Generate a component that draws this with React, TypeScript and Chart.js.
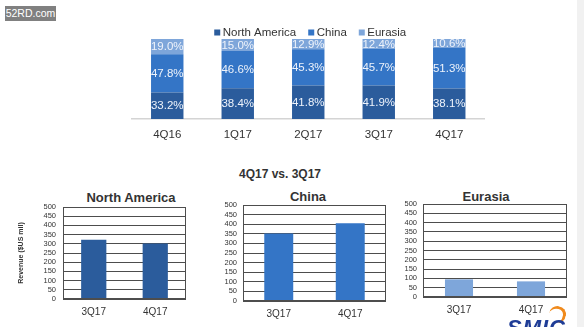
import React, { useEffect, useRef } from 'react';
import { Chart, registerables } from 'chart.js';

Chart.register(...registerables);

// ---------- data ----------
const quarters = ['4Q16', '1Q17', '2Q17', '3Q17', '4Q17'];
const northAmericaShare = [33.2, 38.4, 41.8, 41.9, 38.1];
const chinaShare = [47.8, 46.6, 45.3, 45.7, 51.3];
const eurasiaShare = [19.0, 15.0, 12.9, 12.4, 10.6];

const compareQuarters = ['3Q17', '4Q17'];
const northAmericaRevenue = [322, 301];
const chinaRevenue = [352, 405];
const eurasiaRevenue = [95, 84];

const revenueMin = 0;
const revenueMax = 500;
const revenueStep = 50;

const seriesNames = ['North America', 'China', 'Eurasia'];
const comparisonTitle = '4Q17 vs. 3Q17';
const yAxisTitle = 'Revenue ($US mil)';

// ---------- styles ----------
const FONT = '"Liberation Sans", Arial, Helvetica, sans-serif';
const C_NA = '#2b5c9c';
const C_CN = '#3475c6';
const C_EU = '#7ea6da';
const TEXT = '#333333';
const GRID = '#4d4d4d';

const segmentLabels = {
  id: 'segmentLabels',
  afterDatasetsDraw(chart: any) {
    const ctx = chart.ctx;
    ctx.save();
    ctx.font = `11.5px ${FONT}`;
    ctx.fillStyle = '#eef3fb';
    ctx.textAlign = 'center';
    ctx.textBaseline = 'middle';
    chart.data.datasets.forEach((ds: any, di: number) => {
      const meta = chart.getDatasetMeta(di);
      meta.data.forEach((el: any, i: number) => {
        const { x, y, base } = el.getProps(['x', 'y', 'base'], true);
        ctx.fillText(Number(ds.data[i]).toFixed(1) + '%', x, (y + base) / 2 + 0.5);
      });
    });
    ctx.restore();
  },
};

const customLegend = {
  id: 'customLegend',
  afterDraw(chart: any) {
    const ctx = chart.ctx;
    ctx.save();
    ctx.font = `11.5px ${FONT}`;
    ctx.textBaseline = 'middle';
    ctx.textAlign = 'left';
    const box = 6;
    const gap = 2.5;
    const sep = 12;
    const items = chart.data.datasets.map((d: any) => ({ text: d.label, color: d.backgroundColor }));
    const widths = items.map((it: any) => box + gap + ctx.measureText(it.text).width);
    const total = widths.reduce((a: number, b: number) => a + b, 0) + sep * (items.length - 1);
    const area = chart.chartArea;
    let x = (area.left + area.right) / 2 + 2 - total / 2;
    const y = area.top - 6;
    items.forEach((it: any, i: number) => {
      ctx.fillStyle = it.color;
      ctx.fillRect(x, y - box / 2 - 0.5, box, box);
      ctx.fillStyle = TEXT;
      ctx.fillText(it.text, x + box + gap, y);
      x += widths[i] + sep;
    });
    ctx.restore();
  },
};

const plotBox = {
  id: 'plotBox',
  afterDraw(chart: any) {
    const { ctx, chartArea } = chart;
    ctx.save();
    ctx.strokeStyle = GRID;
    ctx.lineWidth = 1;
    ctx.strokeRect(
      Math.round(chartArea.left) + 0.5,
      Math.round(chartArea.top) + 0.5,
      Math.round(chartArea.right - chartArea.left) - 1,
      Math.round(chartArea.bottom - chartArea.top) - 1
    );
    ctx.restore();
  },
};

function ShareChart() {
  const ref = useRef<HTMLCanvasElement>(null);
  useEffect(() => {
    if (!ref.current) return;
    const chart = new Chart(ref.current, {
      type: 'bar',
      data: {
        labels: quarters,
        datasets: [
          { label: seriesNames[0], data: northAmericaShare, backgroundColor: C_NA },
          { label: seriesNames[1], data: chinaShare, backgroundColor: C_CN },
          { label: seriesNames[2], data: eurasiaShare, backgroundColor: C_EU },
        ],
      },
      options: {
        animation: false,
        responsive: false,
        maintainAspectRatio: false,
        layout: { padding: { left: 32, right: 35.5, top: 19, bottom: 6 } },
        datasets: { bar: { categoryPercentage: 0.46, barPercentage: 1 } },
        plugins: { legend: { display: false }, tooltip: { enabled: false } },
        scales: {
          x: {
            stacked: true,
            grid: { display: false, drawTicks: false },
            border: { display: true, color: '#d4d4d4', width: 1.5 },
            ticks: { color: TEXT, padding: 9, font: { family: FONT, size: 11.5 } },
            afterFit: (s: any) => { s.height = 25; },
          },
          y: { stacked: true, display: false, min: 0, max: 100 },
        },
      },
      plugins: [segmentLabels, customLegend],
    } as any);
    return () => chart.destroy();
  }, []);
  return (
    <canvas
      ref={ref}
      width={420}
      height={130}
      style={{ position: 'absolute', left: 100, top: 20, width: 420, height: 130 }}
    />
  );
}

type RevProps = {
  values: number[];
  color: string;
  label: string;
  left: number;
  width: number;
  pad: { left: number; right: number; top: number; bottom: number };
  yWidth: number;
  tickPad: number;
  showTitle: boolean;
  catPct: number;
};

function RevenueChart(p: RevProps) {
  const ref = useRef<HTMLCanvasElement>(null);
  useEffect(() => {
    if (!ref.current) return;
    const chart = new Chart(ref.current, {
      type: 'bar',
      data: {
        labels: compareQuarters,
        datasets: [{ label: p.label, data: p.values, backgroundColor: p.color }],
      },
      options: {
        animation: false,
        responsive: false,
        maintainAspectRatio: false,
        layout: { padding: p.pad },
        datasets: { bar: { categoryPercentage: p.catPct, barPercentage: 1 } },
        plugins: { legend: { display: false }, tooltip: { enabled: false } },
        scales: {
          x: {
            grid: { display: false, drawTicks: false },
            border: { display: false },
            ticks: { color: TEXT, padding: 7, font: { family: FONT, size: 10 } },
            afterFit: (s: any) => { s.height = 22; },
          },
          y: {
            min: revenueMin,
            max: revenueMax,
            grid: { color: GRID, lineWidth: 1, drawTicks: false },
            border: { display: false },
            ticks: {
              stepSize: revenueStep,
              autoSkip: false,
              color: TEXT,
              padding: p.tickPad,
              font: { family: FONT, size: 7.5 },
            },
            title: {
              display: p.showTitle,
              text: yAxisTitle,
              color: TEXT,
              padding: 0,
              font: { family: FONT, size: 7, weight: 'bold' },
            },
            afterFit: (s: any) => { s.width = p.yWidth; },
          },
        },
      },
      plugins: [plotBox],
    } as any);
    return () => chart.destroy();
  }, []);
  return (
    <canvas
      ref={ref}
      width={p.width}
      height={147}
      style={{ position: 'absolute', left: p.left, top: 180, width: p.width, height: 147 }}
    />
  );
}

const centerText = (
  text: string,
  x: number,
  y: number,
  size: number,
  bold = true
): React.ReactElement => (
  <div
    style={{
      position: 'absolute',
      left: x,
      top: y,
      transform: 'translate(-50%, -50%)',
      fontFamily: FONT,
      fontSize: size,
      fontWeight: bold ? 'bold' : 'normal',
      color: TEXT,
      whiteSpace: 'nowrap',
      lineHeight: 1,
    }}
  >
    {text}
  </div>
);

export default function App() {
  return (
    <div
      style={{
        position: 'absolute',
        left: 0,
        top: 0,
        width: 584,
        height: 327,
        overflow: 'hidden',
        background: '#ffffff',
      }}
    >
      <div style={{ position: 'absolute', left: 577, top: 0, width: 7, height: 327, background: '#f1f1f1' }} />
      <div
        style={{
          position: 'absolute',
          left: 5,
          top: 6,
          width: 51,
          height: 15,
          background: '#808080',
          color: '#ffffff',
          fontFamily: FONT,
          fontSize: 10.5,
          lineHeight: '15px',
          textAlign: 'center',
        }}
      >
        52RD.com
      </div>
      <ShareChart />
      {centerText(comparisonTitle, 280, 174, 12)}
      {centerText(seriesNames[0], 131, 197, 13)}
      {centerText(seriesNames[1], 308, 196, 13)}
      {centerText(seriesNames[2], 486, 196, 13)}
      <RevenueChart
        values={northAmericaRevenue}
        color={C_NA}
        label={seriesNames[0]}
        left={0}
        width={195}
        pad={{ left: 17, right: 9, top: 27, bottom: 6 }}
        yWidth={46}
        tickPad={7}
        showTitle={true}
        catPct={0.41}
      />
      <RevenueChart
        values={chinaRevenue}
        color={C_CN}
        label={seriesNames[1]}
        left={195}
        width={200}
        pad={{ left: 0, right: 9, top: 25, bottom: 4 }}
        yWidth={48}
        tickPad={6}
        showTitle={false}
        catPct={0.405}
      />
      <RevenueChart
        values={eurasiaRevenue}
        color={C_EU}
        label={seriesNames[2]}
        left={395}
        width={189}
        pad={{ left: 0, right: 17, top: 24, bottom: 8 }}
        yWidth={28}
        tickPad={6}
        showTitle={false}
        catPct={0.39}
      />
      <div
        style={{
          position: 'absolute',
          left: 549,
          top: 306,
          width: 14,
          height: 14,
          borderTop: '3px solid #f08a1c',
          borderRight: '3px solid #f08a1c',
          borderRadius: '50%',
          transform: 'rotate(10deg)',
        }}
      />
      <div
        style={{
          position: 'absolute',
          left: 507,
          top: 317,
          fontFamily: FONT,
          fontSize: 22,
          lineHeight: '22px',
          fontWeight: 'bold',
          fontStyle: 'italic',
          color: '#1e3c96',
          letterSpacing: 1,
        }}
      >
        SMIC
      </div>
    </div>
  );
}
